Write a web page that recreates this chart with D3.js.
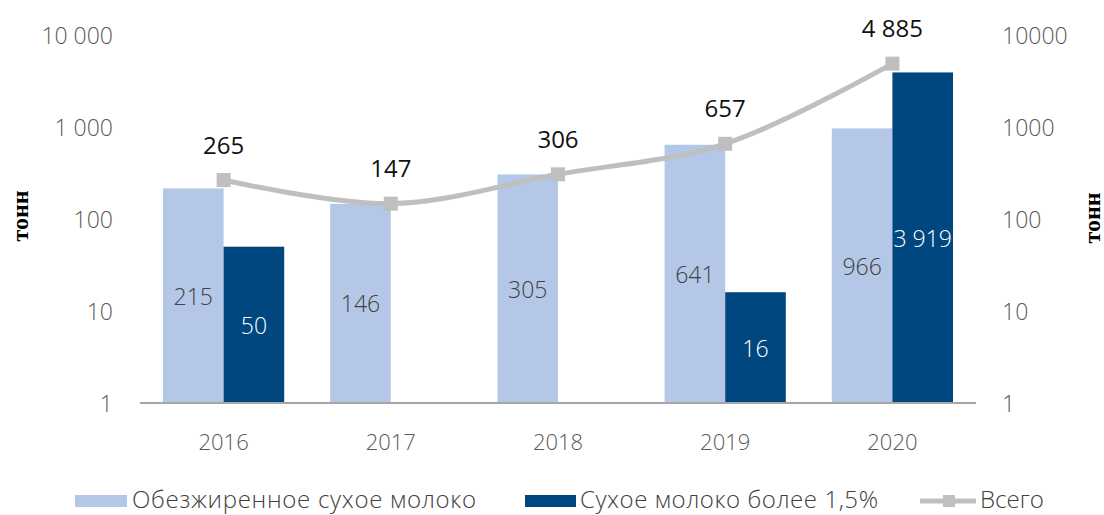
<!DOCTYPE html>
<html lang="ru">
<head>
<meta charset="utf-8">
<title>Сухое молоко</title>
<script src="https://d3js.org/d3.v7.min.js"></script>
<style>
  body { margin: 0; background: #fff; }
  svg text { font-family: "Open Sans", "Noto Sans", sans-serif; }
  .tick-lbl { fill: #595959; font-size: 23px; font-weight: 300; }
</style>
</head>
<body>
<script>
// data
var years = ["2016", "2017", "2018", "2019", "2020"];
var skimmed = [215, 146, 305, 641, 966];        // Обезжиренное сухое молоко
var whole = [50, null, null, 16, 3919];         // Сухое молоко более 1,5%
var total = [265, 147, 306, 657, 4885];         // Всего
var leftTicks = [1, 10, 100, 1000, 10000];
var leftTickLabels = ["1", "10", "100", "1 000", "10 000"];
var rightTickLabels = ["1", "10", "100", "1000", "10000"];

var w = 1104, h = 515;
var lightCol = "#b4c7e7", darkCol = "#00467f", lineCol = "#bfbfbf";

var svg = d3.select("body").append("svg")
    .attr("width", w)
    .attr("height", h);

var x = d3.scaleBand()
    .domain(years)
    .range([140, 976])
    .paddingInner(0.275)
    .paddingOuter(0.1375);

var xSub = d3.scaleBand()
    .domain(["a", "b"])
    .range([0, x.bandwidth()]);

var y = d3.scaleLog()
    .domain([1, 10000])
    .range([403, 35]);

var fmt = function(v) {
  return d3.format(",")(v).replace(/,/g, " ");
};

// left axis labels
svg.append("g").selectAll("text")
  .data(leftTicks)
  .enter().append("text")
    .attr("class", "tick-lbl")
    .attr("x", 113)
    .attr("y", function(d) { return y(d); })
    .attr("text-anchor", "end")
    .attr("dominant-baseline", "central")
    .text(function(d, i) { return leftTickLabels[i]; });

// right axis labels
svg.append("g").selectAll("text")
  .data(leftTicks)
  .enter().append("text")
    .attr("class", "tick-lbl")
    .attr("x", 1002)
    .attr("y", function(d) { return y(d); })
    .attr("dominant-baseline", "central")
    .text(function(d, i) { return rightTickLabels[i]; });

// units
[[20, 216], [1092, 218]].forEach(function(p) {
  svg.append("text")
    .attr("transform", "translate(" + p[0] + "," + p[1] + ") rotate(-90)")
    .attr("text-anchor", "middle").attr("dominant-baseline", "central")
    .style("font-family", "'Liberation Serif', 'DejaVu Serif', serif")
    .style("font-weight", "bold")
    .style("font-size", "24px")
    .attr("fill", "#000")
    .text("тонн");
});

// bars
var groups = svg.append("g").selectAll("g")
  .data(years)
  .enter().append("g")
    .attr("transform", function(d) { return "translate(" + x(d) + ",0)"; });

groups.append("rect")
  .attr("x", xSub("a"))
  .attr("width", xSub.bandwidth())
  .attr("y", function(d, i) { return y(skimmed[i]); })
  .attr("height", function(d, i) { return y(1) - y(skimmed[i]); })
  .attr("fill", lightCol);

groups.filter(function(d, i) { return whole[i] != null; })
  .append("rect")
  .attr("x", xSub("b"))
  .attr("width", xSub.bandwidth())
  .attr("y", function(d) { return y(whole[years.indexOf(d)]); })
  .attr("height", function(d) { return y(1) - y(whole[years.indexOf(d)]); })
  .attr("fill", darkCol);

groups.append("text")
  .attr("x", xSub("a") + xSub.bandwidth() / 2)
  .attr("y", function(d, i) { return (y(skimmed[i]) + y(1)) / 2; })
  .attr("text-anchor", "middle")
  .attr("dominant-baseline", "central")
  .style("font-size", "23px").style("font-weight", 300)
  .attr("fill", "#404040")
  .text(function(d, i) { return fmt(skimmed[i]); });

groups.filter(function(d, i) { return whole[i] != null; })
  .append("text")
  .attr("x", xSub("b") + xSub.bandwidth() / 2)
  .attr("y", function(d) { return (y(whole[years.indexOf(d)]) + y(1)) / 2; })
  .attr("text-anchor", "middle")
  .attr("dominant-baseline", "central")
  .style("font-size", "23px").style("font-weight", 300)
  .attr("fill", "#fff")
  .text(function(d) { return fmt(whole[years.indexOf(d)]); });

// x axis line
svg.append("line")
  .attr("x1", 140).attr("x2", 976)
  .attr("y1", y(1)).attr("y2", y(1))
  .attr("stroke", "#a6a6a6").attr("stroke-width", 2);

// x labels
svg.append("g").selectAll("text")
  .data(years)
  .enter().append("text")
    .attr("class", "tick-lbl")
    .attr("x", function(d) { return x(d) + x.bandwidth() / 2; })
    .attr("y", 441)
    .attr("text-anchor", "middle")
    .attr("dominant-baseline", "central")
    .style("font-size", "22px")
    .text(function(d) { return d; });

// total line
var cx = function(d, i) { return x(years[i]) + x.bandwidth() / 2; };
var line = d3.line()
  .x(cx)
  .y(function(d) { return y(d); })
  .curve(d3.curveCatmullRom.alpha(0.5));

svg.append("path")
  .datum(total)
  .attr("d", line)
  .attr("fill", "none")
  .attr("stroke", lineCol)
  .attr("stroke-width", 5);

svg.append("g").selectAll("rect")
  .data(total)
  .enter().append("rect")
    .attr("x", function(d, i) { return cx(d, i) - 7; })
    .attr("y", function(d) { return y(d) - 7; })
    .attr("width", 14).attr("height", 14)
    .attr("fill", lineCol);

svg.append("g").selectAll("text")
  .data(total)
  .enter().append("text")
    .attr("x", cx)
    .attr("y", function(d) { return y(d) - 36; })
    .attr("text-anchor", "middle")
    .attr("dominant-baseline", "central")
    .style("font-size", "24px")
    .attr("fill", "#111")
    .text(function(d) { return fmt(d); });

// legend
var lg = svg.append("g").attr("class", "legend").style("font-size", "24px");
lg.append("rect").attr("x", 75).attr("y", 495).attr("width", 52).attr("height", 12).attr("fill", lightCol);
lg.append("text").attr("x", 132).attr("y", 498).attr("dominant-baseline", "central")
  .attr("textLength", 344)
  .attr("fill", "#404040").style("font-weight", 300).text("Обезжиренное сухое молоко");
lg.append("rect").attr("x", 525).attr("y", 495).attr("width", 51).attr("height", 12).attr("fill", darkCol);
lg.append("text").attr("x", 580).attr("y", 498).attr("dominant-baseline", "central")
  .attr("textLength", 298)
  .attr("fill", "#404040").style("font-weight", 300).text("Сухое молоко более 1,5%");
lg.append("line").attr("x1", 920).attr("x2", 976).attr("y1", 501).attr("y2", 501)
  .attr("stroke", lineCol).attr("stroke-width", 5);
lg.append("rect").attr("x", 943).attr("y", 495).attr("width", 12).attr("height", 12).attr("fill", lineCol);
lg.append("text").attr("x", 980).attr("y", 498).attr("dominant-baseline", "central")
  .attr("fill", "#404040").style("font-weight", 300).text("Всего");
</script>
</body>
</html>
